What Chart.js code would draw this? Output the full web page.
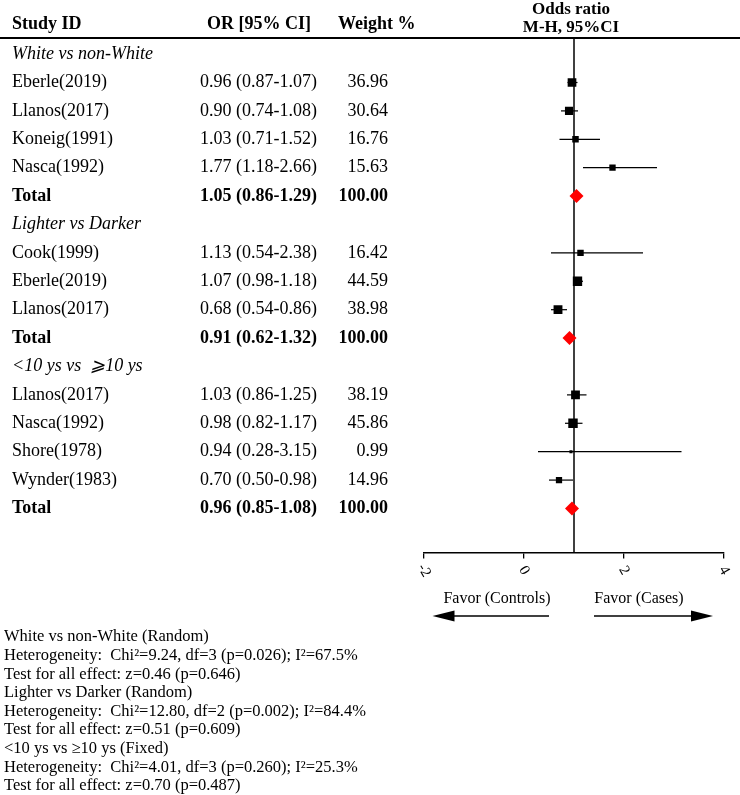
<!DOCTYPE html>
<html>
<head>
<meta charset="utf-8">
<script src="https://cdn.jsdelivr.net/npm/chart.js@4/dist/chart.umd.min.js"></script>
<style>
  html, body { margin: 0; padding: 0; background: #fff; }
  canvas { display: block; }
</style>
</head>
<body>
<canvas id="forest" width="740" height="795"></canvas>
<script>
const groupNames = ['White vs non-White', 'Lighter vs Darker', '<10 ys vs  \u2A7E10 ys'];
const studyNames = ['Eberle(2019)', 'Llanos(2017)', 'Koneig(1991)', 'Nasca(1992)', 'Cook(1999)', 'Eberle(2019)', 'Llanos(2017)', 'Llanos(2017)', 'Nasca(1992)', 'Shore(1978)', 'Wynder(1983)'];
const studyGroup = [0, 0, 0, 0, 1, 1, 1, 2, 2, 2, 2];
const studyOR = [0.96, 0.90, 1.03, 1.77, 1.13, 1.07, 0.68, 1.03, 0.98, 0.94, 0.70];
const studyLow = [0.87, 0.74, 0.71, 1.18, 0.54, 0.98, 0.54, 0.86, 0.82, 0.28, 0.50];
const studyHigh = [1.07, 1.08, 1.52, 2.66, 2.38, 1.18, 0.86, 1.25, 1.17, 3.15, 0.98];
const studyWeight = [36.96, 30.64, 16.76, 15.63, 16.42, 44.59, 38.98, 38.19, 45.86, 0.99, 14.96];
const totalOR = [1.05, 0.91, 0.96];
const totalLow = [0.86, 0.62, 0.85];
const totalHigh = [1.29, 1.32, 1.08];
const xTicks = [-2, 0, 2, 4];
const footNotes = [
  'White vs non-White (Random)',
  'Heterogeneity:  Chi\u00B2=9.24, df=3 (p=0.026); I\u00B2=67.5%',
  'Test for all effect: z=0.46 (p=0.646)',
  'Lighter vs Darker (Random)',
  'Heterogeneity:  Chi\u00B2=12.80, df=2 (p=0.002); I\u00B2=84.4%',
  'Test for all effect: z=0.51 (p=0.609)',
  '<10 ys vs \u226510 ys (Fixed)',
  'Heterogeneity:  Chi\u00B2=4.01, df=3 (p=0.260); I\u00B2=25.3%',
  'Test for all effect: z=0.70 (p=0.487)'
];

// filas de la tabla: titulo de grupo, estudios, total
const rows = [];
groupNames.forEach((name, g) => {
  rows.push({ tipo: 'grupo', g });
  studyGroup.forEach((sg, i) => { if (sg === g) rows.push({ tipo: 'estudio', i }); });
  rows.push({ tipo: 'total', g });
});

const fmtCI = (or, lo, hi) => `${or.toFixed(2)} (${lo.toFixed(2)}-${hi.toFixed(2)})`;
const serif = '"Liberation Serif", "Times New Roman", serif';

const puntosEstudio = [];
const radios = [];
const puntosTotal = [];
rows.forEach((r, idx) => {
  if (r.tipo === 'estudio') {
    puntosEstudio.push({ x: studyOR[r.i], y: idx, lo: studyLow[r.i], hi: studyHigh[r.i] });
    const lado = 2 + Math.sqrt(studyWeight[r.i]) * 1.1;
    radios.push(lado / (2 * Math.SQRT1_2));
  } else if (r.tipo === 'total') {
    puntosTotal.push({ x: totalOR[r.g], y: idx });
  }
});

const tablaPlugin = {
  id: 'tabla',
  beforeDatasetsDraw(chart) {
    const { ctx, scales: { x, y }, chartArea } = chart;
    ctx.save();
    ctx.strokeStyle = '#000';
    // linea de no efecto
    ctx.lineWidth = 1.5;
    ctx.beginPath();
    ctx.moveTo(x.getPixelForValue(1), chartArea.top);
    ctx.lineTo(x.getPixelForValue(1), chartArea.bottom);
    ctx.stroke();
    // intervalos de confianza
    ctx.lineWidth = 1.2;
    puntosEstudio.forEach(p => {
      const py = y.getPixelForValue(p.y);
      ctx.beginPath();
      ctx.moveTo(x.getPixelForValue(p.lo), py);
      ctx.lineTo(x.getPixelForValue(p.hi), py);
      ctx.stroke();
    });
    ctx.restore();
  },
  afterDraw(chart) {
    const { ctx, scales: { x, y }, chartArea } = chart;
    ctx.save();
    ctx.fillStyle = '#000';
    ctx.textBaseline = 'middle';

    // encabezados
    ctx.font = `bold 18px ${serif}`;
    ctx.textAlign = 'left';
    ctx.fillText('Study ID', 12, 24);
    ctx.fillText('Weight %', 338, 24);
    ctx.textAlign = 'center';
    ctx.fillText('OR [95% CI]', 259, 24);
    ctx.font = `bold 17px ${serif}`;
    ctx.fillText('Odds ratio', 571, 10);
    ctx.fillText('M-H, 95%CI', 571, 28);

    ctx.strokeStyle = '#000';
    ctx.lineWidth = 2;
    ctx.beginPath();
    ctx.moveTo(0, 38);
    ctx.lineTo(740, 38);
    ctx.stroke();

    // filas
    rows.forEach((r, idx) => {
      const py = y.getPixelForValue(idx);
      if (r.tipo === 'grupo') {
        ctx.font = `italic 18px ${serif}`;
        ctx.textAlign = 'left';
        ctx.fillText(groupNames[r.g], 12, py);
      } else if (r.tipo === 'estudio') {
        ctx.font = `18px ${serif}`;
        ctx.textAlign = 'left';
        ctx.fillText(studyNames[r.i], 12, py);
        ctx.fillText(fmtCI(studyOR[r.i], studyLow[r.i], studyHigh[r.i]), 200, py);
        ctx.textAlign = 'right';
        ctx.fillText(studyWeight[r.i].toFixed(2), 388, py);
      } else {
        ctx.font = `bold 18px ${serif}`;
        ctx.textAlign = 'left';
        ctx.fillText('Total', 12, py);
        ctx.fillText(fmtCI(totalOR[r.g], totalLow[r.g], totalHigh[r.g]), 200, py);
        ctx.textAlign = 'right';
        ctx.fillText('100.00', 388, py);
      }
    });

    // etiquetas del eje x, giradas
    ctx.font = `15px ${serif}`;
    ctx.textAlign = 'center';
    x.ticks.forEach(t => {
      ctx.save();
      ctx.translate(x.getPixelForValue(t.value), chartArea.bottom + 18);
      ctx.rotate(Math.PI / 3);
      ctx.fillText(String(t.value), 0, 0);
      ctx.restore();
    });

    // favor + flechas
    ctx.font = `16px ${serif}`;
    ctx.fillText('Favor (Controls)', x.getPixelForValue(-0.54), 599);
    ctx.fillText('Favor (Cases)', x.getPixelForValue(2.3), 599);
    const flecha = (desde, hasta) => {
      const x0 = x.getPixelForValue(desde), x1 = x.getPixelForValue(hasta);
      const dir = Math.sign(x1 - x0);
      const yy = 616;
      ctx.lineWidth = 1.3;
      ctx.beginPath();
      ctx.moveTo(x0, yy);
      ctx.lineTo(x1 - dir * 18, yy);
      ctx.stroke();
      ctx.beginPath();
      ctx.moveTo(x1, yy);
      ctx.lineTo(x1 - dir * 22, yy - 5.5);
      ctx.lineTo(x1 - dir * 22, yy + 5.5);
      ctx.closePath();
      ctx.fill();
    };
    flecha(0.5, -1.83);
    flecha(1.4, 3.78);

    // notas al pie
    ctx.font = `16.5px ${serif}`;
    ctx.textAlign = 'left';
    footNotes.forEach((t, k) => ctx.fillText(t, 4, 637 + k * 18.6));
    ctx.restore();
  }
};

const ctx = document.getElementById('forest').getContext('2d');
new Chart(ctx, {
  type: 'scatter',
  data: {
    datasets: [
      {
        label: 'Estudios',
        data: puntosEstudio,
        pointStyle: 'rect',
        pointRadius: radios,
        pointHoverRadius: radios,
        backgroundColor: '#000',
        borderColor: '#000',
        borderWidth: 0
      },
      {
        label: 'Total',
        data: puntosTotal,
        pointStyle: 'rectRot',
        pointRadius: 7,
        pointHoverRadius: 7,
        backgroundColor: '#ff0000',
        borderColor: '#ff0000',
        borderWidth: 0
      }
    ]
  },
  options: {
    responsive: false,
    animation: false,
    layout: { padding: { left: 424, right: 16, top: 38, bottom: 222.5 } },
    plugins: {
      legend: { display: false },
      tooltip: { enabled: false },
      title: { display: false }
    },
    scales: {
      x: {
        type: 'linear',
        min: -2,
        max: 4,
        afterBuildTicks: s => { s.ticks = xTicks.map(v => ({ value: v })); },
        afterFit: s => { s.height = 20; },
        ticks: { color: 'rgba(0,0,0,0)', maxRotation: 0, font: { size: 12 } },
        grid: { drawOnChartArea: false, drawTicks: true, tickLength: 6, color: '#000', lineWidth: 1.3 },
        border: { display: true, color: '#000', width: 1.5 }
      },
      y: {
        display: false,
        reverse: true,
        min: -0.567,
        max: 17.55
      }
    }
  },
  plugins: [tablaPlugin]
});
</script>
</body>
</html>
